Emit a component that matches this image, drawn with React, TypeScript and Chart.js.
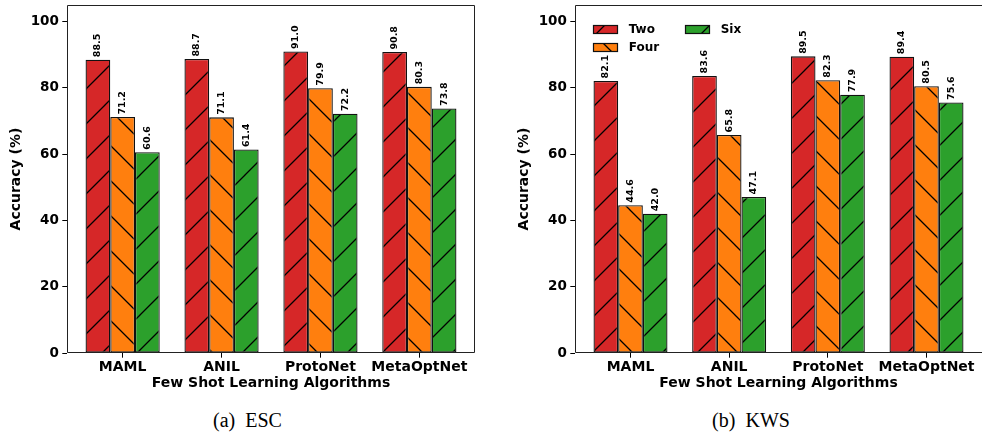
import { useEffect, useRef } from 'react';
import { Chart, registerables } from 'chart.js';
Chart.register(...registerables);

const categories = ['MAML', 'ANIL', 'ProtoNet', 'MetaOptNet'];
const seriesNames = ['Two', 'Four', 'Six'];
const escTwo = [88.5, 88.7, 91.0, 90.8];
const escFour = [71.2, 71.1, 79.9, 80.3];
const escSix = [60.6, 61.4, 72.2, 73.8];
const kwsTwo = [82.1, 83.6, 89.5, 89.4];
const kwsFour = [44.6, 65.8, 82.3, 80.5];
const kwsSix = [42.0, 47.1, 77.9, 75.6];
const yTicks = [0, 20, 40, 60, 80, 100];
const yMax = 105;
const seriesColors = ['#d62728', '#ff7f0e', '#2ca02c'];
const seriesHatch = ['/', '\\', '/'];
const xTitle = 'Few Shot Learning Algorithms';
const yTitle = 'Accuracy (%)';

const FONT = "'DejaVu Sans', sans-serif";

function makeHatch(color: string, dir: string): CanvasPattern | string {
  const s = 35;
  const c = document.createElement('canvas');
  c.width = s;
  c.height = s;
  const g = c.getContext('2d');
  if (!g) return color;
  g.fillStyle = color;
  g.fillRect(0, 0, s, s);
  g.strokeStyle = '#000';
  g.lineWidth = 1.3;
  g.beginPath();
  for (const o of [-s, 0, s]) {
    if (dir === '/') {
      g.moveTo(o - 3, s + 3);
      g.lineTo(o + s + 3, -3);
    } else {
      g.moveTo(o - 3, -3);
      g.lineTo(o + s + 3, s + 3);
    }
  }
  g.stroke();
  const p = g.createPattern(c, 'repeat');
  return p || color;
}

type ChartCfg = {
  series: number[][];
  yWidth: number;
  yTitlePad: number;
  padRight: number;
  legend: boolean;
  rightSpine: boolean;
};

function buildChart(canvas: HTMLCanvasElement, cfg: ChartCfg) {
  const patterns = seriesColors.map((c, i) => makeHatch(c, seriesHatch[i]));
  const datasets = cfg.series.map((vals, si) => ({
    label: seriesNames[si],
    data: vals.map((v, i) => ({ x: i, y: v })),
    backgroundColor: patterns[si],
    borderColor: '#111',
    borderWidth: 1.3,
    borderSkipped: false,
    categoryPercentage: 0.75,
    barPercentage: 1,
  }));

  const framePlugin = {
    id: 'frame',
    afterDatasetsDraw(chart: any) {
      const { ctx, chartArea } = chart;
      const l = Math.round(chartArea.left) + 0.5;
      const t = Math.round(chartArea.top) + 0.5;
      const r = Math.round(chartArea.right) - 0.5;
      const b = Math.round(chartArea.bottom) - 0.5;
      ctx.save();
      ctx.strokeStyle = '#222';
      ctx.lineWidth = 1;
      ctx.beginPath();
      ctx.moveTo(l, b);
      ctx.lineTo(l, t);
      ctx.lineTo(cfg.rightSpine ? r : chartArea.right + 2, t);
      if (cfg.rightSpine) ctx.lineTo(r, b);
      ctx.moveTo(l, b);
      ctx.lineTo(cfg.rightSpine ? r : chartArea.right + 2, b);
      ctx.stroke();
      ctx.restore();
    },
  };

  const labelPlugin = {
    id: 'barLabels',
    afterDatasetsDraw(chart: any) {
      const { ctx } = chart;
      ctx.save();
      ctx.font = `bold 9.5px ${FONT}`;
      ctx.fillStyle = '#000';
      ctx.textAlign = 'left';
      ctx.textBaseline = 'middle';
      chart.data.datasets.forEach((ds: any, di: number) => {
        const meta = chart.getDatasetMeta(di);
        meta.data.forEach((el: any, i: number) => {
          const v = ds.data[i].y as number;
          ctx.save();
          ctx.translate(el.x, el.y - 2.5);
          ctx.rotate(-Math.PI / 2);
          ctx.fillText(v.toFixed(1), 0, 0);
          ctx.restore();
        });
      });
      ctx.restore();
    },
  };

  const legendPlugin = {
    id: 'colLegend',
    afterDraw(chart: any) {
      if (!cfg.legend) return;
      const { ctx, chartArea } = chart;
      const ds = chart.data.datasets;
      const rows = Math.ceil(ds.length / 2);
      ctx.save();
      ctx.font = `bold 12px ${FONT}`;
      ctx.textAlign = 'left';
      ctx.textBaseline = 'middle';
      ds.forEach((d: any, i: number) => {
        const col = Math.floor(i / rows);
        const row = i % rows;
        const bx = Math.round(chartArea.left + 18.3 + col * 91.7);
        const by = Math.round(chartArea.top + 20 + row * 18.3);
        ctx.fillStyle = d.backgroundColor;
        ctx.fillRect(bx, by, 25, 9);
        ctx.strokeStyle = '#111';
        ctx.lineWidth = 1.2;
        ctx.strokeRect(bx + 0.5, by + 0.5, 24, 8);
        ctx.fillStyle = '#000';
        ctx.fillText(d.label, bx + 35.7, by + 4.8);
      });
      ctx.restore();
    },
  };

  return new Chart(canvas, {
    type: 'bar',
    data: { datasets: datasets as any },
    plugins: [framePlugin, labelPlugin, legendPlugin],
    options: {
      animation: false,
      responsive: false,
      devicePixelRatio: 1,
      layout: { padding: { left: 0, top: 5, right: cfg.padRight, bottom: 0 } },
      plugins: { legend: { display: false }, tooltip: { enabled: false } },
      scales: {
        x: {
          type: 'linear',
          offset: false,
          min: -0.5625,
          max: categories.length - 1 + 0.5625,
          afterBuildTicks(scale: any) {
            scale.ticks = categories.map((_, i) => ({ value: i }));
          },
          afterFit(scale: any) {
            scale.height = 47;
            scale.paddingLeft = 0;
            scale.paddingRight = 0;
          },
          ticks: {
            callback: (v: any) => categories[Number(v)] ?? '',
            color: '#000',
            font: { family: FONT, size: 14, weight: 'bold' },
            padding: 1,
            maxRotation: 0,
            autoSkip: false,
          },
          grid: {
            display: true,
            offset: false,
            drawOnChartArea: false,
            drawTicks: true,
            tickLength: 4.7,
            color: '#000',
          },
          border: { display: false },
          title: {
            display: true,
            text: xTitle,
            color: '#000',
            font: { family: FONT, size: 14, weight: 'bold' },
            padding: { top: 0, bottom: 8.1 },
          },
        },
        y: {
          type: 'linear',
          min: 0,
          max: yMax,
          afterBuildTicks(scale: any) {
            scale.ticks = yTicks.map((v) => ({ value: v }));
          },
          afterFit(scale: any) {
            scale.width = cfg.yWidth;
            scale.paddingTop = 0;
            scale.paddingBottom = 0;
          },
          ticks: {
            color: '#000',
            font: { family: FONT, size: 13.5, weight: 'bold' },
            padding: 3.4,
          },
          grid: {
            display: true,
            drawOnChartArea: false,
            drawTicks: true,
            tickLength: 4.7,
            color: '#000',
          },
          border: { display: false },
          title: {
            display: true,
            text: yTitle,
            color: '#000',
            font: { family: FONT, size: 14, weight: 'bold' },
            padding: { top: cfg.yTitlePad, bottom: 0 },
          },
        },
      },
    } as any,
  });
}

function Panel(props: { cfg: ChartCfg; left: number; width: number }) {
  const ref = useRef<HTMLCanvasElement>(null);
  useEffect(() => {
    if (!ref.current) return;
    const ch = buildChart(ref.current, props.cfg);
    return () => ch.destroy();
  }, []);
  return (
    <div style={{ position: 'absolute', left: props.left, top: 0, width: props.width, height: 400, overflow: 'hidden' }}>
      <canvas ref={ref} width={props.width} height={400} style={{ display: 'block' }} />
    </div>
  );
}

const captionStyle: any = {
  position: 'absolute',
  top: 409,
  fontFamily: "'Liberation Serif', 'Times New Roman', serif",
  fontSize: 20,
  lineHeight: '23px',
  color: '#000',
  whiteSpace: 'pre',
  transform: 'translateX(-50%)',
};

export default function App() {
  useEffect(() => {
    document.body.style.margin = '0';
  }, []);
  const escCfg: ChartCfg = {
    series: [escTwo, escFour, escSix],
    yWidth: 67,
    yTitlePad: 8,
    padRight: 15,
    legend: false,
    rightSpine: true,
  };
  const kwsCfg: ChartCfg = {
    series: [kwsTwo, kwsFour, kwsSix],
    yWidth: 85,
    yTitlePad: 26,
    padRight: 0,
    legend: true,
    rightSpine: false,
  };
  return (
    <div style={{ position: 'fixed', left: 0, top: 0, width: 982, height: 437, background: '#fff', overflow: 'hidden' }}>
      <Panel cfg={escCfg} left={0} width={490} />
      <Panel cfg={kwsCfg} left={490} width={492} />
      <div style={{ ...captionStyle, left: 247.5 }}>(a)  ESC</div>
      <div style={{ ...captionStyle, left: 751 }}>(b)  KWS</div>
    </div>
  );
}
